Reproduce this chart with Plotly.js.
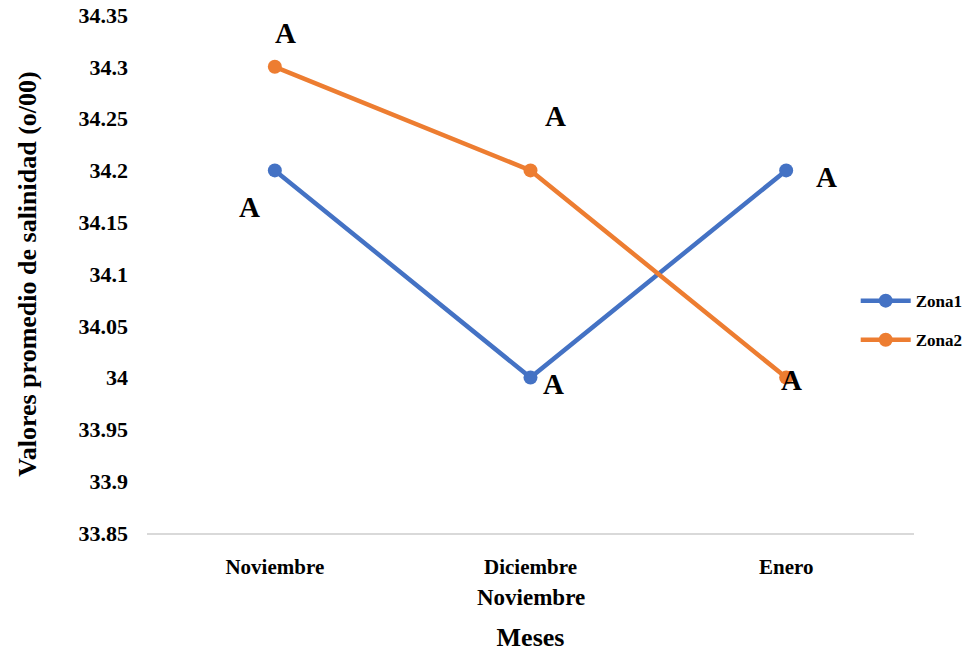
<!DOCTYPE html>
<html>
<head>
<meta charset="utf-8">
<script src="https://cdn.plot.ly/plotly-3.0.1.min.js"></script>
<style>html,body{margin:0;padding:0;background:#fff;}#chart{width:974px;height:652px;}</style>
</head>
<body>
<div id="chart"></div>
<script>
const categories = ["Noviembre", "Diciembre", "Enero"];
const zona1 = [34.2, 34.0, 34.2];
const zona2 = [34.3, 34.2, 34.0];
const seriesNames = ["Zona1", "Zona2"];
const letters1 = ["A", "A", "A"];
const letters2 = ["A", "A", "A"];
const yTicks = [33.85, 33.9, 33.95, 34, 34.05, 34.1, 34.15, 34.2, 34.25, 34.3, 34.35];
const yTickText = ["33.85", "33.9", "33.95", "34", "34.05", "34.1", "34.15", "34.2", "34.25", "34.3", "34.35"];

const FONT = "Liberation Serif, Times New Roman, serif";
const colors = ["#4472C4", "#ED7D31"];

const traces = [zona1, zona2].map((vals, i) => ({
  x: categories, y: vals, name: "<b>" + seriesNames[i] + "</b>", type: "scatter", mode: "lines+markers",
  legendgroup: "g" + i,
  line: {color: colors[i], width: 4.5},
  marker: {color: colors[i], size: 14}
}));

// label offsets (pixels) per point
const shifts1 = [[-25, -37], [23, -6], [40, -7]];
const shifts2 = [[11, 34], [25, 54], [5, -2]];
const annotations = [];
function addLetters(vals, letters, shifts) {
  vals.forEach((v, j) => annotations.push({
    x: categories[j], y: v, xref: "x", yref: "y", text: "<b>" + letters[j] + "</b>",
    showarrow: false, xshift: shifts[j][0], yshift: shifts[j][1],
    font: {family: FONT, size: 29, color: "#000"}
  }));
}
addLetters(zona1, letters1, shifts1);
addLetters(zona2, letters2, shifts2);
annotations.push({
  xref: "paper", yref: "paper", x: 0.5, y: -0.125, yanchor: "middle", showarrow: false,
  text: "<b>Noviembre</b>", font: {family: FONT, size: 23, color: "#000"}
});

const layout = {
  width: 974, height: 652,
  margin: {l: 147, r: 60, t: 15, b: 119, autoexpand: false},
  paper_bgcolor: "#fff", plot_bgcolor: "#fff",
  showlegend: true,
  legend: {x: 0.924, xanchor: "left", y: 0.41, yanchor: "middle", bgcolor: "rgba(0,0,0,0)",
    font: {family: FONT, size: 17, color: "#000"}, tracegroupgap: 14, itemwidth: 50},
  xaxis: {
    type: "category", range: [-0.5, 2.5], showgrid: false, zeroline: false,
    showline: true, linecolor: "#d9d9d9", linewidth: 1.5, ticks: "",
    tickfont: {family: FONT, size: 21, color: "#000"}, ticklabelstandoff: 14,
    tickvals: categories, ticktext: categories.map(c => "<b>" + c + "</b>"),
    title: {text: "<b>Meses</b>", font: {family: FONT, size: 26, color: "#000"}, standoff: 50}
  },
  yaxis: {
    range: [33.85, 34.35], showgrid: false, zeroline: false, showline: false, ticks: "",
    tickvals: yTicks, ticktext: yTickText.map(t => "<b>" + t + "</b>"),
    tickfont: {family: FONT, size: 22, color: "#000"}, ticklabelstandoff: 18,
    title: {text: "<b>Valores promedio de salinidad (o/00)</b>", font: {family: FONT, size: 26, color: "#000"}, standoff: 34}
  },
  annotations: annotations
};

Plotly.newPlot("chart", traces, layout, {displayModeBar: false, staticPlot: true});
</script>
</body>
</html>
